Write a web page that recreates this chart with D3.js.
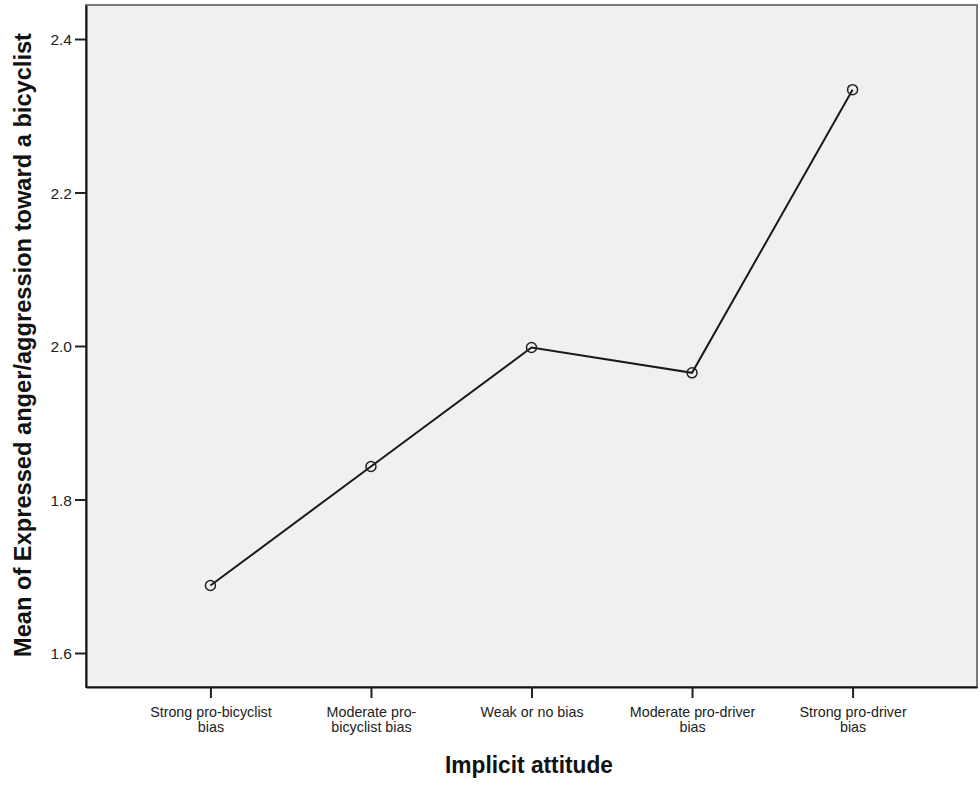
<!DOCTYPE html>
<html>
<head>
<meta charset="utf-8">
<script src="https://cdn.jsdelivr.net/npm/d3@7"></script>
<style>
  body { margin: 0; background: #fff; }
  svg { display: block; font-family: Arial, "Liberation Sans", sans-serif; }
</style>
</head>
<body>
<svg id="chart" width="980" height="788"></svg>
<script>
const categories = [
  ["Strong pro-bicyclist", "bias"],
  ["Moderate pro-", "bicyclist bias"],
  ["Weak or no bias"],
  ["Moderate pro-driver", "bias"],
  ["Strong pro-driver", "bias"],
];
const means = [1.688, 1.843, 1.998, 1.965, 2.334];
const yTicks = [1.6, 1.8, 2.0, 2.2, 2.4];

const svg = d3.select("#chart");
const frame = { left: 86, top: 5, right: 977, bottom: 687 };

const x = d3.scalePoint()
  .domain(d3.range(categories.length))
  .range([frame.left, frame.right])
  .padding(0.775);

const y = d3.scaleLinear()
  .domain([1.5557, 2.4443])
  .range([frame.bottom, frame.top]);

svg.append("rect")
  .attr("x", frame.left)
  .attr("y", frame.top)
  .attr("width", frame.right - frame.left)
  .attr("height", frame.bottom - frame.top)
  .attr("fill", "#f0f0f0")
  .attr("stroke", "#7a7a7a")
  .attr("stroke-width", 2);

const yAxis = svg.append("g")
  .attr("transform", `translate(${frame.left},0)`)
  .call(d3.axisLeft(y).tickValues(yTicks).tickFormat(d3.format(".1f")).tickSize(11).tickSizeOuter(0));

const xAxis = svg.append("g")
  .attr("transform", `translate(0,${frame.bottom})`)
  .call(d3.axisBottom(x).tickSize(11).tickSizeOuter(0).tickFormat(""));

[yAxis, xAxis].forEach((g) => {
  g.select(".domain").attr("stroke", "#111").attr("stroke-width", 2);
  g.selectAll(".tick line").attr("stroke", "#222").attr("stroke-width", 2);
});

yAxis.selectAll(".tick text")
  .attr("font-size", 15.5)
  .attr("fill", "#222")
  .attr("x", -14)
  .attr("dy", "0.36em");

xAxis.selectAll(".tick")
  .append("text")
  .attr("text-anchor", "middle")
  .attr("fill", "#222")
  .attr("font-size", 14.3)
  .selectAll("tspan")
  .data((d) => categories[d])
  .join("tspan")
  .attr("x", 0)
  .attr("y", (d, i) => 30 + i * 14.5)
  .text((d) => d);

const line = d3.line()
  .x((d, i) => x(i))
  .y((d) => y(d));

svg.append("path")
  .datum(means)
  .attr("d", line)
  .attr("fill", "none")
  .attr("stroke", "#1a1a1a")
  .attr("stroke-width", 2);

svg.selectAll("circle.marker")
  .data(means)
  .join("circle")
  .attr("class", "marker")
  .attr("cx", (d, i) => x(i))
  .attr("cy", (d) => y(d))
  .attr("r", 5)
  .attr("fill", "none")
  .attr("stroke", "#222")
  .attr("stroke-width", 1.5);

svg.append("text")
  .attr("x", 529)
  .attr("y", 773)
  .attr("text-anchor", "middle")
  .attr("font-size", 23)
  .attr("font-weight", "bold")
  .attr("fill", "#111")
  .attr("textLength", 168)
  .attr("lengthAdjust", "spacingAndGlyphs")
  .text("Implicit attitude");

svg.append("text")
  .attr("transform", `translate(31,345) rotate(-90)`)
  .attr("text-anchor", "middle")
  .attr("font-size", 23.5)
  .attr("font-weight", "bold")
  .attr("fill", "#111")
  .attr("textLength", 624)
  .attr("lengthAdjust", "spacingAndGlyphs")
  .text("Mean of Expressed anger/aggression toward a bicyclist");
</script>
</body>
</html>
